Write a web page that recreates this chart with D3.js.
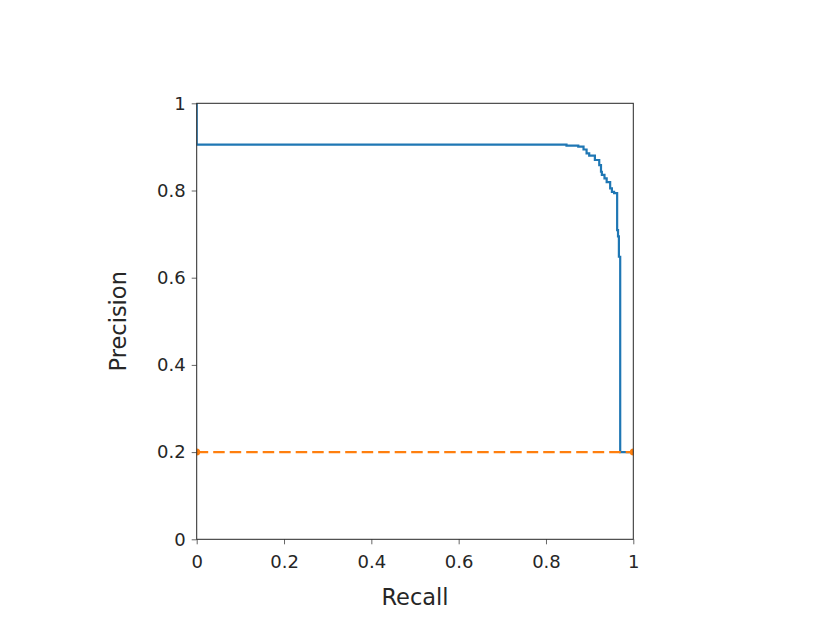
<!DOCTYPE html>
<html>
<head>
<meta charset="utf-8">
<script src="https://cdn.jsdelivr.net/npm/d3@7"></script>
<style>
  body { margin: 0; background: #fff; }
  text { font-family: "DejaVu Sans", sans-serif; fill: #262626; }
</style>
</head>
<body>
<div id="vis"></div>
<script>
// PR curve vertices (drawn as steps-post)
const recall    = [0, 0, 0.847, 0.874, 0.886, 0.893, 0.899, 0.912, 0.922, 0.926, 0.928, 0.934, 0.939, 0.947, 0.951, 0.956, 0.963, 0.965, 0.967, 0.970, 1];
const precision = [1, 0.905, 0.903, 0.9005, 0.894, 0.885, 0.880, 0.870, 0.858, 0.843, 0.836, 0.828, 0.819, 0.805, 0.797, 0.794, 0.709, 0.695, 0.648, 0.2, 0.2];
const chanceRecall = [0, 1];
const chanceLevel  = [0.2, 0.2];
const ticks = [0, 0.2, 0.4, 0.6, 0.8, 1];

var width = 830, height = 623;
var box = {left: 196.7, top: 103.3, right: 633.3, bottom: 539.3};

var svg = d3.select("#vis").append("svg")
  .attr("width", width).attr("height", height);

var x = d3.scaleLinear().domain([0, 1]).range([box.left, box.right]);
var y = d3.scaleLinear().domain([0, 1]).range([box.bottom, box.top]);

var fmt = d => d === 0 ? "0" : d === 1 ? "1" : d3.format(".1f")(d);

svg.append("defs").append("clipPath").attr("id", "clip")
  .append("rect")
  .attr("x", box.left).attr("y", box.top)
  .attr("width", box.right - box.left).attr("height", box.bottom - box.top);

var xAxis = svg.append("g")
  .attr("transform", "translate(0," + box.bottom + ")")
  .call(d3.axisBottom(x).tickValues(ticks).tickFormat(fmt).tickSize(5).tickPadding(11));
var yAxis = svg.append("g")
  .attr("transform", "translate(" + box.left + ",0)")
  .call(d3.axisLeft(y).tickValues(ticks).tickFormat(fmt).tickSize(5).tickPadding(6));

[xAxis, yAxis].forEach(a => {
  a.select(".domain").remove();
  a.selectAll(".tick line").attr("stroke", "#666").attr("stroke-width", 1);
  a.selectAll(".tick text").attr("font-size", 18).style("fill", "#262626");
});

var pts = recall.map((r, i) => [r, precision[i]]);
var g = svg.append("g").attr("clip-path", "url(#clip)");

g.append("path")
  .datum(pts)
  .attr("fill", "none")
  .attr("stroke", "#1f77b4")
  .attr("stroke-width", 2.2)
  .attr("d", d3.line().curve(d3.curveStepAfter)
    .x(d => x(d[0])).y(d => y(d[1])));

var chance = chanceRecall.map((r, i) => [r, chanceLevel[i]]);
g.append("path")
  .datum(chance)
  .attr("fill", "none")
  .attr("stroke", "#ff7f0e")
  .attr("stroke-width", 2.2)
  .attr("stroke-dasharray", "11.5,5")
  .attr("d", d3.line().x(d => x(d[0])).y(d => y(d[1])));
g.selectAll("circle")
  .data(chance)
  .enter().append("circle")
  .attr("cx", d => x(d[0])).attr("cy", d => y(d[1]))
  .attr("r", 3.5).attr("fill", "#ff7f0e");

// spines
svg.append("rect")
  .attr("x", box.left).attr("y", box.top)
  .attr("width", box.right - box.left).attr("height", box.bottom - box.top)
  .attr("fill", "none").attr("stroke", "#262626").attr("stroke-width", 1);

svg.append("text")
  .attr("x", (box.left + box.right) / 2).attr("y", 605)
  .attr("text-anchor", "middle").attr("font-size", 22.5)
  .text("Recall");
svg.append("text")
  .attr("transform", "translate(126," + (box.top + box.bottom) / 2 + ") rotate(-90)")
  .attr("text-anchor", "middle").attr("font-size", 22.5)
  .text("Precision");
</script>
</body>
</html>
